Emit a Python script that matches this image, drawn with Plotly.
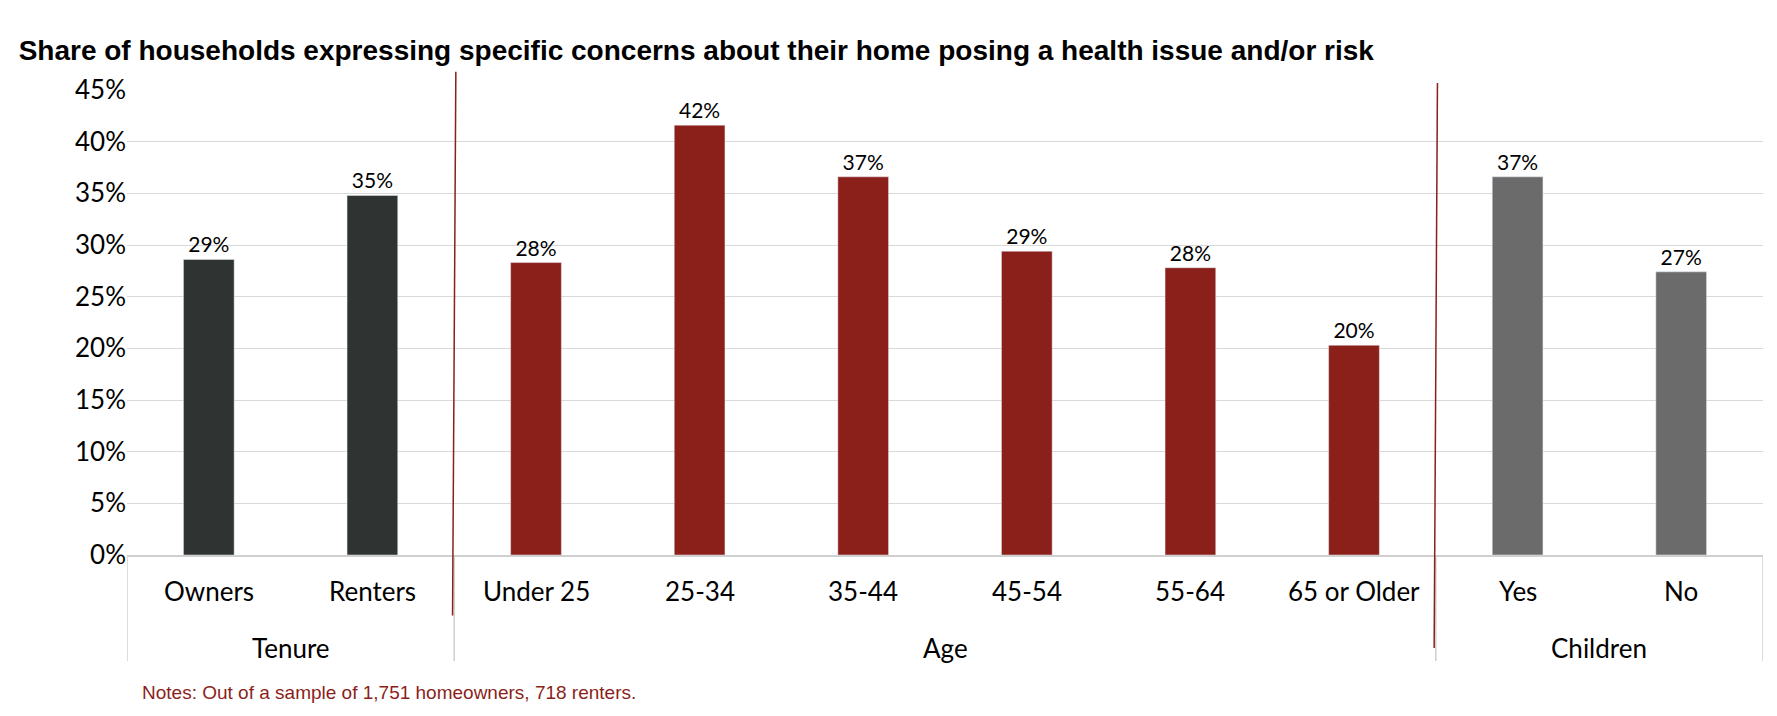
import plotly.graph_objects as go

categories = ["Owners", "Renters", "Under 25", "25-34", "35-44", "45-54", "55-64", "65 or Older", "Yes", "No"]
values = [28.6, 34.8, 28.3, 41.6, 36.6, 29.4, 27.8, 20.3, 36.6, 27.4]
groups = ["Tenure", "Age", "Children"]
group_spans = [(0, 2), (2, 8), (8, 10)]
colors = ["#2f3432"] * 2 + ["#8b1f1a"] * 6 + ["#6b6b6b"] * 2

xs = [i + 0.5 for i in range(len(categories))]
fig = go.Figure(go.Bar(
    x=xs, y=values, width=0.31, marker_color=colors,
    text=[f"{round(v)}%" for v in values], textposition="outside",
    textfont=dict(size=21, color="black", family="Lato"), cliponaxis=False,
))

ann = []
for x, c in zip(xs, categories):
    ann.append(dict(x=x, y=-0.078, xref="x", yref="paper", text=c, showarrow=False,
                    font=dict(size=26, family="Lato", color="black"), yanchor="middle"))
for g, (a, b) in zip(groups, group_spans):
    ann.append(dict(x=(a + b) / 2, y=-0.201, xref="x", yref="paper", text=g, showarrow=False,
                    font=dict(size=26, family="Lato", color="black"), yanchor="middle"))
ann.append(dict(x=0.008, y=-0.295, xref="paper", yref="paper", text="Notes: Out of a sample of 1,751 homeowners, 718 renters.",
                showarrow=False, xanchor="left", yanchor="middle",
                font=dict(size=19, family="Liberation Sans", color="#8b1f1a")))

shapes = []
for x in [0, 2, 8, 10]:
    shapes.append(dict(type="line", xref="x", yref="paper", x0=x, x1=x, y0=0, y1=-0.228,
                       line=dict(color="#d0d0d0", width=1.5)))
shapes.append(dict(type="line", xref="x", yref="paper", x0=2.01, x1=1.99, y0=1.039, y1=-0.13,
                   line=dict(color="#8b1f1a", width=1.5)))
shapes.append(dict(type="line", xref="x", yref="paper", x0=8.01, x1=7.99, y0=1.015, y1=-0.2,
                   line=dict(color="#8b1f1a", width=1.5)))

fig.update_layout(
    width=1777, height=716, plot_bgcolor="white", paper_bgcolor="white",
    margin=dict(l=119, r=22, t=82, b=169),
    title=dict(text="<b>Share of households expressing specific concerns about their home posing a health issue and/or risk</b>",
               x=0.006, xanchor="left", y=0.955, font=dict(size=28, family="Liberation Sans", color="black")),
    xaxis=dict(range=[0, 10], showticklabels=False, showgrid=False, zeroline=False,
               showline=True, linecolor="#d0d0d0", linewidth=1.5),
    yaxis=dict(range=[0, 45], dtick=5, ticksuffix="%", showgrid=True, gridcolor="#d9d9d9",
               zeroline=False, tickfont=dict(size=26, family="Lato", color="black")),
    annotations=ann, shapes=shapes, showlegend=False,
)
fig.write_html("out.html")
